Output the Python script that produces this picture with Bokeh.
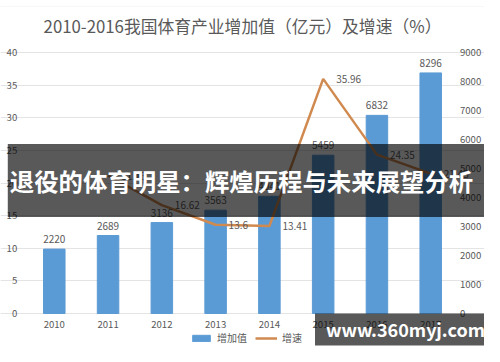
from bokeh.plotting import figure
from bokeh.models import (Range1d, LinearAxis, FixedTicker, ColumnDataSource,
                          LabelSet, Label, Legend, LegendItem, FactorRange,
                          BoxAnnotation)
from bokeh.core.properties import value
from bokeh.embed import file_html
from bokeh.resources import INLINE

# ---------------- data ----------------
years = ["2010", "2011", "2012", "2013", "2014", "2015", "2016", "2017"]
added_value = [2220, 2689, 3136, 3563, 4041, 5459, 6832, 8296]
growth_years = ["2011", "2012", "2013", "2014", "2015", "2016", "2017"]
growth = [21.13, 16.62, 13.6, 13.41, 35.96, 24.35, 21.43]
left_ticks = [0, 5, 10, 15, 20, 25, 30, 35, 40]
right_ticks = [0, 1000, 2000, 3000, 4000, 5000, 6000, 7000, 8000, 9000]
title_text = "2010-2016我国体育产业增加值（亿元）及增速（%）"
banner_text = "退役的体育明星：辉煌历程与未来展望分析"
watermark_text = "www.360myj.com"
legend_labels = ["增加值", "增速"]

FONT = "Noto Sans CJK SC"
GREY = "#595959"
BAR = "#5B9BD5"
LINE = "#D08A50"

W, H = 484, 346
# plot region inside the canvas (frame fills the canvas so overlays are not clipped)
BASE, TOP = 313, 52
x_pad = 0.5
y_lo = -(H - BASE) * 40 / (BASE - TOP)
y_hi = 40 + TOP * 40 / (BASE - TOP)
r_lo = -(H - BASE) * 9000 / (BASE - TOP)
r_hi = 9000 + TOP * 9000 / (BASE - TOP)

p = figure(width=W, height=H,
           x_range=FactorRange(*years, range_padding=x_pad,
                               range_padding_units="absolute"),
           y_range=Range1d(y_lo, y_hi), output_backend="svg",
           toolbar_location=None, min_border=0)
p.extra_y_ranges = {"right": Range1d(r_lo, r_hi)}
p.outline_line_color = None
p.xgrid.grid_line_color = None
p.ygrid.grid_line_color = "#e4e4e4"
p.ygrid.ticker = FixedTicker(ticks=left_ticks)
p.yaxis.ticker = FixedTicker(ticks=left_ticks)

right_axis = LinearAxis(y_range_name="right", ticker=FixedTicker(ticks=right_ticks))
p.add_layout(right_axis, "right")

for ax in [p.xaxis[0], p.yaxis[0], right_axis]:
    ax.axis_line_color = None
    ax.major_tick_line_color = None
    ax.minor_tick_line_color = None
    ax.major_tick_out = 0
    ax.major_tick_in = 0
    ax.minor_tick_out = 0
    ax.major_label_text_font_size = "9.6px"
    ax.major_label_text_color = GREY
    ax.major_label_text_font = FONT
p.yaxis[0].fixed_location = -0.04
p.yaxis[0].major_label_standoff = 8
right_axis.fixed_location = 7.95
right_axis.major_label_standoff = 5
p.xaxis[0].fixed_location = 0
p.xaxis[0].major_label_standoff = 7

# faint outer chart border
p.add_layout(BoxAnnotation(left=-5, right=W + 10, top=H - 6, bottom=-20,
                           left_units="screen", right_units="screen",
                           top_units="screen", bottom_units="screen",
                           fill_alpha=0, line_color="#e6e6e6", line_width=1,
                           level="underlay"))

bar_src = ColumnDataSource(dict(year=years, value=added_value,
                                label=[str(v) for v in added_value]))
bars = p.vbar(x="year", top="value", bottom=0, width=0.4, source=bar_src,
              y_range_name="right", color=BAR)
p.add_layout(LabelSet(x="year", y="value", text="label", source=bar_src,
                      y_range_name="right", text_align="center",
                      text_baseline="bottom", y_offset=6,
                      text_font_size="10px", text_color=GREY,
                      text_font=value(FONT)))

line_src = ColumnDataSource(dict(year=growth_years, g=growth,
                                 label=[str(v) for v in growth]))
line = p.line(x="year", y="g", source=line_src, line_color=LINE, line_width=2.5)
p.add_layout(LabelSet(x="year", y="g", text="label", source=line_src,
                      text_align="left", text_baseline="middle", x_offset=13,
                      text_font_size="10px", text_color=GREY,
                      text_font=value(FONT)))

legend = Legend(items=[LegendItem(label=legend_labels[0], renderers=[bars]),
                       LegendItem(label=legend_labels[1], renderers=[line])],
                location=(190, 1), orientation="horizontal",
                label_text_font_size="10px", label_text_color=GREY,
                label_text_font=FONT, glyph_width=22, glyph_height=8,
                label_height=10, label_standoff=5,
                padding=0, margin=0, spacing=8, border_line_alpha=0,
                background_fill_alpha=0)
p.add_layout(legend)

p.add_layout(Label(x=242, y=H - 25, x_units="screen", y_units="screen",
                   text=title_text, text_align="center", text_baseline="middle",
                   text_font_size="16.8px", text_color=GREY, text_font=FONT))

p.add_layout(Label(x=246, y=H - 180, x_units="screen", y_units="screen",
                   text=banner_text, text_align="center", text_baseline="middle",
                   text_font_size="24.4px", text_font_style="bold",
                   text_color="white", text_font=FONT,
                   background_fill_color="black", background_fill_alpha=0.65,
                   padding=dict(left=2, right=12, top=19, bottom=19)))

p.add_layout(Label(x=405, y=H - 329, x_units="screen", y_units="screen",
                   text=watermark_text, text_align="center", text_baseline="middle",
                   text_font_size="18px", text_font_style="bold",
                   text_color="white", text_font=FONT,
                   background_fill_color="black", background_fill_alpha=0.65,
                   padding=dict(left=11, right=11, top=2, bottom=4)))

open("out.html", "w").write(file_html(p, INLINE))
